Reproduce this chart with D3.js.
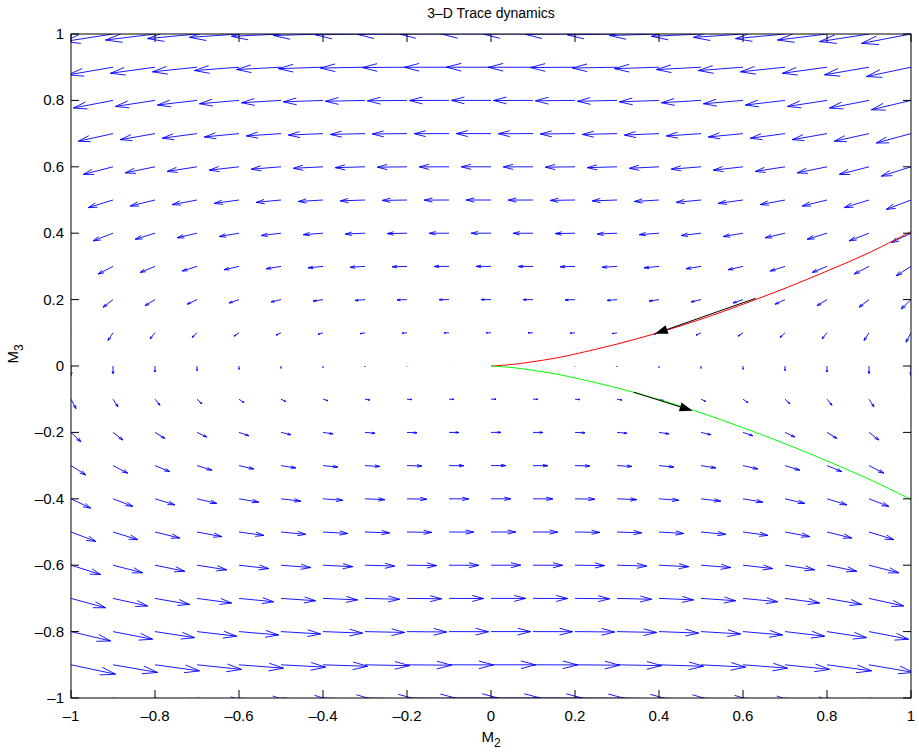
<!DOCTYPE html>
<html>
<head>
<meta charset="utf-8">
<script src="https://cdn.jsdelivr.net/npm/d3@7"></script>
<style>
  html, body { margin: 0; padding: 0; background: #fff; }
  svg { display: block; font-family: "Liberation Sans", Arial, Helvetica, sans-serif; }
</style>
</head>
<body>
<svg id="chart" width="919" height="753"></svg>
<script>
// ---- data ----
const title = "3–D Trace dynamics";
const xTicks = [-1, -0.8, -0.6, -0.4, -0.2, 0, 0.2, 0.4, 0.6, 0.8, 1];
const yTicks = [-1, -0.8, -0.6, -0.4, -0.2, 0, 0.2, 0.4, 0.6, 0.8, 1];

// quiver grid (M2 columns, M3 rows)
const gridM2 = [-1, -0.9, -0.8, -0.7, -0.6, -0.5, -0.4, -0.3, -0.2, -0.1, 0, 0.1, 0.2, 0.3, 0.4, 0.5, 0.6, 0.7, 0.8, 0.9, 1];
const gridM3 = [-1, -0.9, -0.8, -0.7, -0.6, -0.5, -0.4, -0.3, -0.2, -0.1, 0, 0.1, 0.2, 0.3, 0.4, 0.5, 0.6, 0.7, 0.8, 0.9, 1];
// horizontal component, same along each M3 row (read per row, bottom to top)
const uByRow = [1.0, 0.9, 0.8, 0.7, 0.6, 0.5, 0.4, 0.3, 0.2, 0.1, 0, -0.1, -0.2, -0.3, -0.4, -0.5, -0.6, -0.7, -0.8, -0.9, -1.0];
// vertical component, same along each M2 column (read per column, left to right)
const vByCol = [-0.24, -0.195, -0.155, -0.118, -0.086, -0.06, -0.038, -0.022, -0.01, -0.0025, 0, -0.0025, -0.01, -0.022, -0.038, -0.06, -0.086, -0.118, -0.155, -0.195, -0.24];

// trajectories
const trajM2 = [0, 0.05, 0.1, 0.15, 0.2, 0.3, 0.4, 0.5, 0.6, 0.7, 0.8, 0.9, 1.0];
const redM3 = [0, 0.0045, 0.013, 0.023, 0.036, 0.066, 0.101, 0.141, 0.186, 0.234, 0.286, 0.341, 0.405];
const greenM3 = [0, -0.0045, -0.013, -0.023, -0.036, -0.066, -0.101, -0.141, -0.186, -0.234, -0.286, -0.341, -0.402];
// direction arrows on the trajectories [fromM2, fromM3, toM2, toM3]
const redArrow = [0.63, 0.204, 0.39, 0.097];
const greenArrow = [0.34, -0.079, 0.48, -0.135];

// ---- layout ----
const svg = d3.select("#chart");
const L = 71, R = 911, T = 34, B = 698;
const x = d3.scaleLinear().domain([-1, 1]).range([L, R]);
const y = d3.scaleLinear().domain([-1, 1]).range([B, T]);
const fmt = v => (v < 0 ? "–" : "") + d3.format("")(Math.abs(v));

svg.append("defs").append("clipPath").attr("id", "clip")
  .append("rect").attr("x", L).attr("y", T).attr("width", R - L).attr("height", B - T);

// ---- quiver (MATLAB style autoscale) ----
const vecs = [];
gridM3.forEach((yy, i) => gridM2.forEach((xx, j) => {
  vecs.push({x: xx, y: yy, u: uByRow[i], v: vByCol[j]});
}));
const n = Math.sqrt(vecs.length);
const delx = (d3.max(gridM2) - d3.min(gridM2)) / n;
const dely = (d3.max(gridM3) - d3.min(gridM3)) / n;
const del = delx * delx + dely * dely;
const maxlen = d3.max(vecs, d => Math.sqrt((d.u * d.u + d.v * d.v) / del));
const s = 0.9 / maxlen;
const alpha = 0.33, beta = 0.33, eps = 1e-12;

let pathStr = "";
vecs.forEach(d => {
  const u = d.u * s, v = d.v * s;
  const ex = d.x + u, ey = d.y + v;
  pathStr += `M${x(d.x)},${y(d.y)}L${x(ex)},${y(ey)}`;
  const h1x = ex - alpha * (u + beta * (v + eps)), h1y = ey - alpha * (v - beta * (u + eps));
  const h2x = ex - alpha * (u - beta * (v + eps)), h2y = ey - alpha * (v + beta * (u + eps));
  pathStr += `M${x(h1x)},${y(h1y)}L${x(ex)},${y(ey)}L${x(h2x)},${y(h2y)}`;
});
const gPlot = svg.append("g").attr("clip-path", "url(#clip)");
gPlot.append("path").attr("d", pathStr)
  .attr("fill", "none").attr("stroke", "#0000ff").attr("stroke-width", 0.9);

// ---- trajectories ----
const line = d3.line().x(d => x(d[0])).y(d => y(d[1])).curve(d3.curveCatmullRom);
gPlot.append("path").datum(trajM2.map((m, i) => [m, redM3[i]])).attr("d", line)
  .attr("fill", "none").attr("stroke", "#ff0000").attr("stroke-width", 1);
gPlot.append("path").datum(trajM2.map((m, i) => [m, greenM3[i]])).attr("d", line)
  .attr("fill", "none").attr("stroke", "#00ff00").attr("stroke-width", 1);

function drawArrow(a) {
  const x0 = x(a[0]), y0 = y(a[1]), x1 = x(a[2]), y1 = y(a[3]);
  const ang = Math.atan2(y1 - y0, x1 - x0);
  const hl = 13, hw = 4.5;
  const bx = x1 - hl * Math.cos(ang), by = y1 - hl * Math.sin(ang);
  gPlot.append("line").attr("x1", x0).attr("y1", y0).attr("x2", bx).attr("y2", by)
    .attr("stroke", "#000").attr("stroke-width", 1);
  const px = -Math.sin(ang) * hw, py = Math.cos(ang) * hw;
  gPlot.append("path")
    .attr("d", `M${x1},${y1}L${bx + px},${by + py}L${bx - px},${by - py}Z`)
    .attr("fill", "#000");
}
drawArrow(redArrow);
drawArrow(greenArrow);

// ---- axes box and ticks ----
const axes = svg.append("g");
axes.append("rect").attr("x", L).attr("y", T).attr("width", R - L).attr("height", B - T)
  .attr("fill", "none").attr("stroke", "#000").attr("stroke-width", 1);
const tl = 8;
xTicks.forEach(t => {
  axes.append("line").attr("x1", x(t)).attr("x2", x(t)).attr("y1", B).attr("y2", B - tl).attr("stroke", "#000");
  axes.append("line").attr("x1", x(t)).attr("x2", x(t)).attr("y1", T).attr("y2", T + tl).attr("stroke", "#000");
  axes.append("text").attr("x", x(t)).attr("y", B + 23).attr("text-anchor", "middle")
    .attr("font-size", 15).text(fmt(t));
});
yTicks.forEach(t => {
  axes.append("line").attr("x1", L).attr("x2", L + tl).attr("y1", y(t)).attr("y2", y(t)).attr("stroke", "#000");
  axes.append("line").attr("x1", R).attr("x2", R - tl).attr("y1", y(t)).attr("y2", y(t)).attr("stroke", "#000");
  axes.append("text").attr("x", L - 7).attr("y", y(t) + 5).attr("text-anchor", "end")
    .attr("font-size", 15).text(fmt(t));
});

// title and labels
svg.append("text").attr("x", (L + R) / 2).attr("y", 18).attr("text-anchor", "middle")
  .attr("font-size", 14).text(title);
const xl = svg.append("text").attr("x", (L + R) / 2).attr("y", 742).attr("text-anchor", "middle")
  .attr("font-size", 15);
xl.append("tspan").text("M");
xl.append("tspan").attr("dy", 5).attr("font-size", 12).text("2");
const yl = svg.append("text").attr("transform", `translate(18,${(T + B) / 2 - 12}) rotate(-90)`)
  .attr("text-anchor", "middle").attr("font-size", 15);
yl.append("tspan").text("M");
yl.append("tspan").attr("dy", 5).attr("font-size", 12).text("3");
</script>
</body>
</html>
